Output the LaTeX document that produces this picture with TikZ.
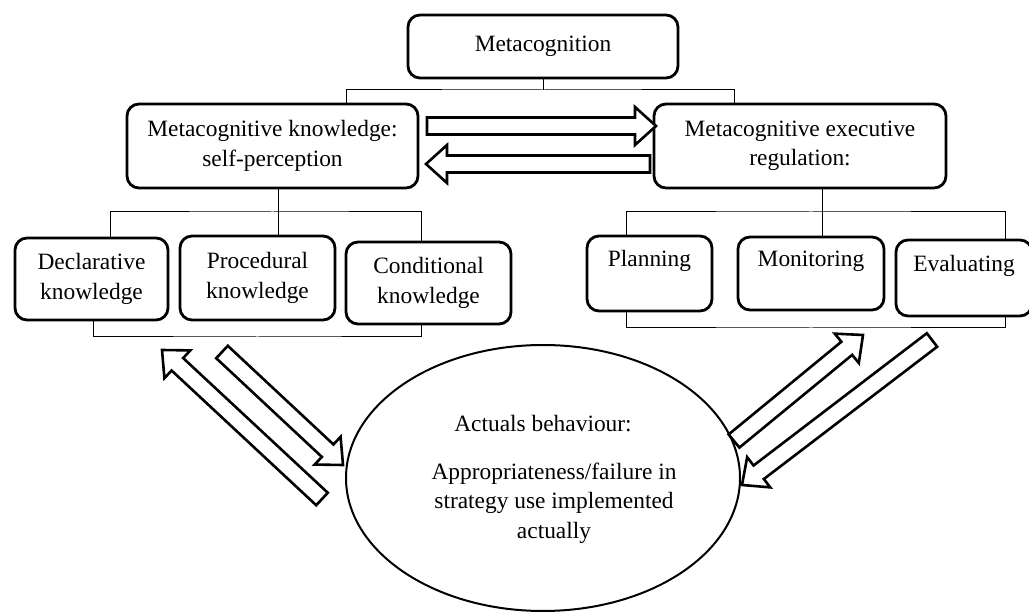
\documentclass[tikz,border=0pt]{standalone}
\usepackage{fontspec}
\setmainfont{Liberation Serif}
\usepackage{tikz}
\usetikzlibrary{calc,shapes.geometric}

% sizes of the hollow arrows
\newcommand{\arrS}{4.25pt}
\newcommand{\arrH}{9.5pt}
\newcommand{\arrL}{10.5pt}
% hollow block arrow from #1 to #2
\newcommand{\fatarrow}[2]{%
  \path ($(#2)!\arrL!(#1)$) coordinate (hb);
  \filldraw[hollow] ($(#1)!\arrS!90:(#2)$) -- ($(hb)!\arrS!90:(#2)$)
    -- ($(hb)!\arrH!90:(#2)$) -- (#2) -- ($(hb)!\arrH!-90:(#2)$)
    -- ($(hb)!\arrS!-90:(#2)$) -- ($(#1)!\arrS!-90:(#2)$) -- cycle;}

\tikzset{
  box/.style={draw, rounded corners=6pt, line width=1.4pt, align=center, inner sep=0pt},
  link/.style={line width=0.5pt},
  hollow/.style={draw, fill=white, line width=1.3pt, line join=miter},
}

\begin{document}
\begin{tikzpicture}[x=0.5pt,y=-0.5pt,font=\fontsize{11.7}{14.7}\selectfont]
\useasboundingbox (0,0) rectangle (1029,614);

% top level
\node[box, minimum width=135pt, minimum height=31.5pt] (meta) at (543,46.5) {Metacognition};
\node[box, minimum width=145.5pt, minimum height=42pt] (know) at (272.5,146) {Metacognitive knowledge:\\self-perception};
\node[box, minimum width=146pt, minimum height=42pt] (exec) at (800,146) {Metacognitive executive\\regulation:};

% knowledge types
\node[box, minimum width=76.5pt, minimum height=41pt] (decl) at (91.5,279) {Declarative\\knowledge};
\node[box, minimum width=77.5pt, minimum height=42pt] (proc) at (257.5,278) {Procedural\\knowledge};
\node[box, minimum width=82.5pt, minimum height=41pt] (cond) at (428.5,283) {Conditional\\knowledge};

% regulation steps
\node[box, minimum width=62.5pt, minimum height=37.5pt] (plan) at (649.5,273.5) {Planning\\\mbox{}};
\node[box, minimum width=73pt, minimum height=36.5pt] (moni) at (811,273.5) {Monitoring\\\mbox{}};
\node[box, minimum width=68pt, minimum height=38pt] (eval) at (964,278) {Evaluating\\\mbox{}};

% behaviour
\node[ellipse, draw, line width=1pt, minimum width=197pt, minimum height=133pt] (act) at (543,478) {};
\node (acttitle) at (543,424) {Actuals behaviour:};
\node[align=center] (acttext) at (554,503) {Appropriateness/failure in\\strategy use implemented\\actually};

% brackets
\coordinate (mj) at (543,90);
\draw[link] (meta.south) -- (mj);
\draw[link] (know.north -| 346,0) |- (mj) -| (exec.north -| 734,0);
\draw[link] (know.south -| 278,0) -- (proc.north -| 278,0);
\draw[link] (decl.north -| 110,0) |- (know.south |- 0,212) -| (cond.north -| 421,0);
\draw[link] (decl.south -| 93,0) |- (proc.south |- 0,337) -| (cond.south -| 421,0);
\draw[link] (exec.south -| 822,0) -- (moni.north -| 822,0);
\draw[link] (plan.north -| 626,0) |- (moni.north |- 0,212) -| (eval.north -| 1005,0);
\draw[link] (plan.south -| 626,0) |- (moni.south |- 0,328) -| (eval.south -| 1005,0);

% arrows
\coordinate (r1) at (427,126);
\coordinate (r2) at (656,126);
\coordinate (l1) at (650,164);
\coordinate (l2) at (426,164);
\fatarrow{r1}{r2}
\fatarrow{l1}{l2}
\coordinate (a1) at (322,499);
\coordinate (a2) at (162,350);
\coordinate (b1) at (222,352);
\coordinate (b2) at (343,465);
\fatarrow{a1}{a2}
\fatarrow{b1}{b2}
\coordinate (c1) at (734,441);
\coordinate (c2) at (863,335);
\coordinate (d1) at (932,340);
\coordinate (d2) at (742,485);
\fatarrow{c1}{c2}
\fatarrow{d1}{d2}
\end{tikzpicture}
\end{document}
